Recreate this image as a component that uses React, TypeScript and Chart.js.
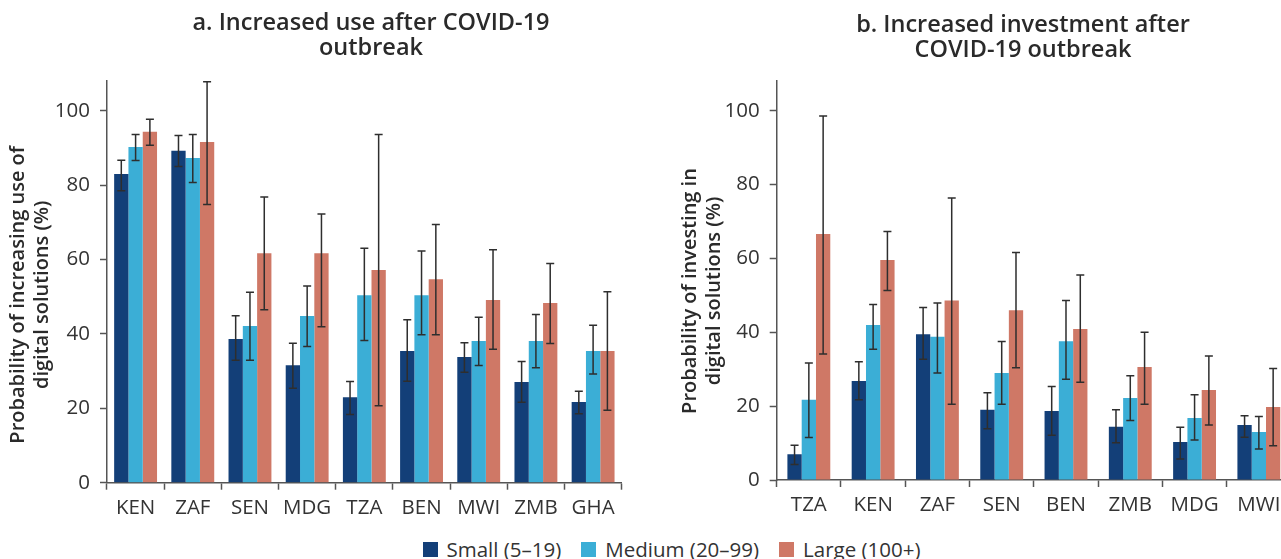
import React, { useEffect, useRef } from 'react';
import { Chart, registerables } from 'chart.js';
Chart.register(...registerables);

const sizeLabels = ['Small (5–19)', 'Medium (20–99)', 'Large (100+)'];
const sizeColors = ['#133F78', '#3BAED6', '#CF7866'];
const yTickValues = [0, 20, 40, 60, 80, 100];

const useTitle = ['a. Increased use after COVID-19', 'outbreak'];
const useAxisTitle = ['Probability of increasing use of     ', 'digital solutions (%)     '];
const useCountries = ['KEN', 'ZAF', 'SEN', 'MDG', 'TZA', 'BEN', 'MWI', 'ZMB', 'GHA'];
const useSmall = [83.0, 89.2, 38.6, 31.6, 23.0, 35.4, 33.8, 27.1, 21.7];
const useSmallLow = [78.5, 85.0, 32.9, 25.4, 18.3, 27.3, 29.7, 21.6, 18.5];
const useSmallHigh = [86.7, 93.3, 44.9, 37.5, 27.2, 43.8, 37.6, 32.6, 24.6];
const useMedium = [90.2, 87.3, 42.1, 44.8, 50.4, 50.4, 38.1, 38.1, 35.4];
const useMediumLow = [86.6, 80.7, 32.9, 36.6, 38.2, 39.8, 31.5, 30.9, 29.2];
const useMediumHigh = [93.6, 93.6, 51.2, 52.9, 63.0, 62.3, 44.5, 45.2, 42.3];
const useLarge = [94.3, 91.6, 61.7, 61.7, 57.2, 54.7, 49.1, 48.3, 35.4];
const useLargeLow = [90.7, 74.8, 46.5, 41.9, 20.7, 39.8, 35.9, 37.4, 19.5];
const useLargeHigh = [97.7, 107.8, 76.8, 72.2, 93.6, 69.4, 62.6, 58.9, 51.3];

const invTitle = ['b. Increased investment after', 'COVID-19 outbreak'];
const invAxisTitle = ['Probability of investing in    ', 'digital solutions (%)    '];
const invCountries = ['TZA', 'KEN', 'ZAF', 'SEN', 'BEN', 'ZMB', 'MDG', 'MWI'];
const invSmall = [7.0, 26.8, 39.5, 19.0, 18.7, 14.4, 10.3, 14.9];
const invSmallLow = [4.2, 21.7, 32.7, 13.9, 12.1, 10.1, 5.7, 11.6];
const invSmallHigh = [9.4, 32.0, 46.7, 23.6, 25.3, 19.0, 14.3, 17.4];
const invMedium = [21.7, 42.0, 38.8, 29.0, 37.6, 22.2, 16.8, 13.0];
const invMediumLow = [11.5, 35.4, 29.0, 20.5, 27.3, 16.1, 10.8, 8.4];
const invMediumHigh = [31.7, 47.5, 47.9, 37.5, 48.6, 28.2, 23.1, 17.2];
const invLarge = [66.6, 59.6, 48.6, 46.0, 40.9, 30.6, 24.4, 19.8];
const invLargeLow = [34.1, 51.3, 20.5, 30.4, 26.5, 20.5, 14.9, 9.3];
const invLargeHigh = [98.6, 67.3, 76.4, 61.6, 55.5, 40.0, 33.6, 30.2];

const FONT = "'Open Sans', sans-serif";

const errorBarPlugin = {
  id: 'errorBars',
  afterDatasetsDraw(chart: any) {
    const { ctx } = chart;
    const yScale = chart.scales.y;
    ctx.save();
    ctx.strokeStyle = '#2e2e2e';
    ctx.lineWidth = 1.5;
    chart.data.datasets.forEach((ds: any, i: number) => {
      const meta = chart.getDatasetMeta(i);
      meta.data.forEach((bar: any, j: number) => {
        const lo = ds.errLow[j];
        const hi = ds.errHigh[j];
        const x = bar.x;
        const y1 = yScale.getPixelForValue(lo);
        const y2 = yScale.getPixelForValue(hi);
        const cw = 4;
        ctx.beginPath();
        ctx.moveTo(x, y1);
        ctx.lineTo(x, y2);
        ctx.moveTo(x - cw, y1);
        ctx.lineTo(x + cw, y1);
        ctx.moveTo(x - cw, y2);
        ctx.lineTo(x + cw, y2);
        ctx.stroke();
      });
    });
    ctx.restore();
  },
};

type PanelProps = {
  left: number;
  width: number;
  height: number;
  title: string[];
  axisTitle: string[];
  categories: string[];
  values: number[][];
  lows: number[][];
  highs: number[][];
  yAxisWidth: number;
  xAxisHeight: number;
  rightSpace: number;
  titlePadTop: number;
  titlePadBottom: number;
  axisTitlePad: number;
  catPct: number;
};

function Panel(p: PanelProps) {
  const ref = useRef<HTMLCanvasElement>(null);
  useEffect(() => {
    if (!ref.current) return;
    const chart = new Chart(ref.current, {
      type: 'bar',
      data: {
        labels: p.categories,
        datasets: sizeLabels.map((lab, i) => ({
          label: lab,
          data: p.values[i],
          errLow: p.lows[i],
          errHigh: p.highs[i],
          backgroundColor: sizeColors[i],
          borderWidth: 0,
          categoryPercentage: p.catPct,
          barPercentage: 1.0,
        })) as any,
      },
      options: {
        responsive: false,
        animation: false,
        layout: { padding: 0 },
        plugins: {
          legend: { display: false },
          tooltip: { enabled: false },
          title: {
            display: true,
            text: p.title,
            color: '#2a2a2a',
            font: { family: FONT, size: 23.5, weight: '600', lineHeight: '25px' },
            padding: { top: p.titlePadTop, bottom: p.titlePadBottom },
          },
        },
        scales: {
          x: {
            grid: {
              display: true,
              drawOnChartArea: false,
              drawTicks: true,
              tickLength: 7,
              tickWidth: 1.5,
              tickColor: '#555',
              offset: true,
            },
            border: { display: true, color: '#555', width: 1.5 },
            ticks: {
              color: '#333',
              padding: 6,
              font: { family: FONT, size: 20.5 },
              maxRotation: 0,
            },
            afterFit: (s: any) => {
              s.height = p.xAxisHeight;
            },
          },
          y: {
            min: 0,
            max: 108,
            bounds: 'data',
            grid: {
              display: true,
              drawOnChartArea: false,
              drawTicks: true,
              tickLength: 7,
              tickWidth: 1.5,
              tickColor: '#555',
            },
            border: { display: true, color: '#555', width: 1.5 },
            ticks: {
              stepSize: 20,
              includeBounds: false,
              color: '#333',
              padding: 10,
              font: { family: FONT, size: 20.5 },
            },
            afterBuildTicks: (s: any) => {
              s.ticks = yTickValues.map((v) => ({ value: v }));
            },
            title: {
              display: true,
              text: p.axisTitle,
              color: '#2a2a2a',
              font: { family: FONT, size: 20, weight: '600', lineHeight: '24px' },
              padding: { top: p.axisTitlePad, bottom: 0 },
            },
            afterFit: (s: any) => {
              s.width = p.yAxisWidth;
            },
          },
          spacer: {
            type: 'linear',
            position: 'right',
            display: true,
            grid: { display: false, drawTicks: false },
            border: { display: false },
            ticks: { display: false },
            afterFit: (s: any) => {
              s.width = p.rightSpace;
            },
          },
        },
      },
      plugins: [errorBarPlugin],
    });
    return () => chart.destroy();
  }, []);
  return (
    <canvas
      ref={ref}
      width={p.width}
      height={p.height}
      style={{ position: 'absolute', left: p.left, top: 0, width: p.width, height: p.height }}
    />
  );
}

export default function App() {
  return (
    <div
      style={{
        position: 'fixed',
        left: 0,
        top: 0,
        width: 1281,
        height: 559,
        overflow: 'hidden',
        background: '#fff',
      }}
    >
      <Panel
        left={0}
        width={742}
        height={530}
        title={useTitle}
        axisTitle={useAxisTitle}
        categories={useCountries}
        values={[useSmall, useMedium, useLarge]}
        lows={[useSmallLow, useMediumLow, useLargeLow]}
        highs={[useSmallHigh, useMediumHigh, useLargeHigh]}
        yAxisWidth={107}
        xAxisHeight={47.3}
        rightSpace={120.3}
        titlePadTop={11}
        titlePadBottom={19.9}
        axisTitlePad={6.5}
        catPct={0.75}
      />
      <Panel
        left={670}
        width={706}
        height={530}
        title={invTitle}
        axisTitle={invAxisTitle}
        categories={invCountries}
        values={[invSmall, invMedium, invLarge]}
        lows={[invSmallLow, invMediumLow, invLargeLow]}
        highs={[invSmallHigh, invMediumHigh, invLargeHigh]}
        yAxisWidth={106.7}
        xAxisHeight={50}
        rightSpace={85}
        titlePadTop={12.5}
        titlePadBottom={18.7}
        axisTitlePad={8}
        catPct={0.667}
      />
      <div
        style={{
          position: 'absolute',
          top: 540,
          left: 671.5,
          transform: 'translateX(-50%)',
          display: 'flex',
          alignItems: 'center',
          gap: 20,
          whiteSpace: 'nowrap',
          fontFamily: FONT,
          fontSize: 20.5,
          color: '#333',
          lineHeight: '19px',
        }}
      >
        {sizeLabels.map((lab, i) => (
          <div key={lab} style={{ display: 'flex', alignItems: 'center' }}>
            <span
              style={{
                display: 'inline-block',
                width: 15,
                height: 15,
                background: sizeColors[i],
                marginRight: 9,
              }}
            />
            <span>{lab}</span>
          </div>
        ))}
      </div>
    </div>
  );
}
